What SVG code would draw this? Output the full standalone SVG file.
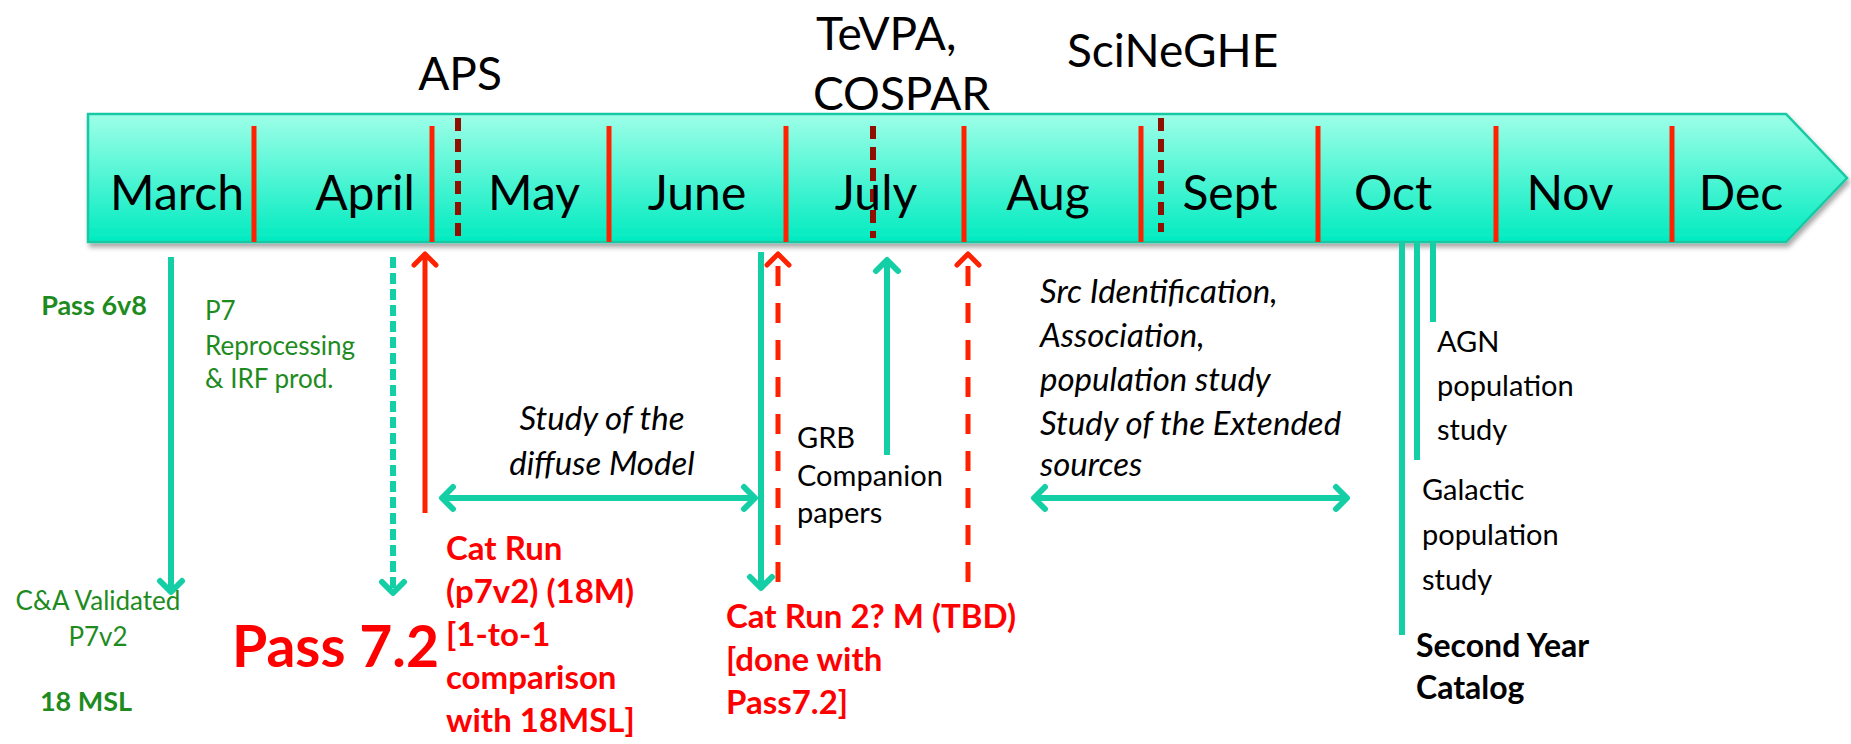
<svg xmlns="http://www.w3.org/2000/svg" width="1851" height="744" viewBox="0 0 1851 744">
<style>
text{font-family:Lato,"Liberation Sans",sans-serif;}
.mon{font-size:48px;fill:#000;text-anchor:middle;}
.ev{font-size:46px;fill:#000;}
.grn{font-size:26px;fill:#1E8B1E;}
.grnb{font-size:27px;fill:#1E8B1E;font-weight:bold;}
.it{font-size:33px;font-style:italic;fill:#000;}
.blk{font-size:29px;fill:#000;}
.red{font-size:33px;font-weight:bold;fill:#FF0000;}
.sep{stroke:#FF2200;stroke-width:5;}
.dsep{stroke:#8F1000;stroke-width:6;stroke-dasharray:13 8;}
.tl{stroke:#14CFA5;stroke-width:6;fill:none;}
.rl{stroke:#FF2200;stroke-width:5;fill:none;}
</style>
<defs>
<linearGradient id="bg" x1="0" y1="0" x2="0" y2="1">
<stop offset="0" stop-color="#9EFFE8"/>
<stop offset="1" stop-color="#00EBC0"/>
</linearGradient>
<filter id="sh" x="-5%" y="-20%" width="110%" height="150%">
<feDropShadow dx="2" dy="4" stdDeviation="2.5" flood-color="#000" flood-opacity="0.35"/>
</filter>
<marker id="ta" markerUnits="userSpaceOnUse" viewBox="-16 -16 20 32" refX="0" refY="0" markerWidth="20" markerHeight="32" orient="auto-start-reverse">
<path d="M-11,-11 L0,0 L-11,11" fill="none" stroke="#14CFA5" stroke-width="6" stroke-linecap="round" stroke-linejoin="round" stroke-dasharray="none"/>
</marker>
<marker id="ra" markerUnits="userSpaceOnUse" viewBox="-16 -16 20 32" refX="0" refY="0" markerWidth="20" markerHeight="32" orient="auto-start-reverse">
<path d="M-11,-11 L0,0 L-11,11" fill="none" stroke="#FF2200" stroke-width="5" stroke-linecap="round" stroke-linejoin="round" stroke-dasharray="none"/>
</marker>
</defs>

<g id="timeline">
<polygon points="88,114 1786,114 1847,178 1786,242 88,242" fill="url(#bg)" stroke="#19C9A4" stroke-width="2.5" filter="url(#sh)"/>
<line class="sep" x1="254" y1="126" x2="254" y2="242"/>
<line class="sep" x1="432" y1="126" x2="432" y2="242"/>
<line class="sep" x1="609" y1="126" x2="609" y2="242"/>
<line class="sep" x1="786" y1="126" x2="786" y2="242"/>
<line class="sep" x1="964" y1="126" x2="964" y2="242"/>
<line class="sep" x1="1141" y1="126" x2="1141" y2="242"/>
<line class="sep" x1="1318" y1="126" x2="1318" y2="242"/>
<line class="sep" x1="1496" y1="126" x2="1496" y2="242"/>
<line class="sep" x1="1672" y1="126" x2="1672" y2="242"/>
<line class="dsep" x1="458" y1="118" x2="458" y2="238"/>
<line class="dsep" x1="873" y1="126" x2="873" y2="238"/>
<line class="dsep" x1="1161" y1="118" x2="1161" y2="232"/>
<text class="mon" x="177" y="210">March</text>
<text class="mon" x="365" y="210">April</text>
<text class="mon" x="534" y="210">May</text>
<text class="mon" x="697" y="210">June</text>
<text class="mon" x="876" y="210">July</text>
<text class="mon" x="1048" y="210">Aug</text>
<text class="mon" x="1230" y="210">Sept</text>
<text class="mon" x="1393" y="210">Oct</text>
<text class="mon" x="1570" y="210">Nov</text>
<text class="mon" x="1741" y="210">Dec</text>
</g>

<g id="events">
<text class="ev" x="460" y="90" text-anchor="middle">APS</text>
<text class="ev" x="816" y="50">TeVPA,</text>
<text class="ev" x="813" y="110">COSPAR</text>
<text class="ev" x="1067" y="67">SciNeGHE</text>
</g>

<g id="connectors">
<line class="tl" x1="171" y1="257" x2="171" y2="592" marker-end="url(#ta)"/>
<line class="tl" x1="393" y1="257" x2="393" y2="593" stroke-dasharray="11 5" stroke-width="5" marker-end="url(#ta)"/>
<line class="rl" x1="425" y1="513" x2="425" y2="254" marker-end="url(#ra)"/>
<line class="tl" x1="442" y1="498" x2="755" y2="498" marker-start="url(#ta)" marker-end="url(#ta)"/>
<line class="tl" x1="761" y1="252" x2="761" y2="588" marker-end="url(#ta)"/>
<line class="rl" x1="778" y1="582" x2="778" y2="254" stroke-dasharray="20 17" marker-end="url(#ra)"/>
<line class="tl" x1="887" y1="455" x2="887" y2="260" marker-end="url(#ta)"/>
<line class="rl" x1="968" y1="582" x2="968" y2="254" stroke-dasharray="20 17" marker-end="url(#ra)"/>
<line class="tl" x1="1034" y1="498" x2="1347" y2="498" marker-start="url(#ta)" marker-end="url(#ta)"/>
<line class="tl" x1="1402" y1="242" x2="1402" y2="635"/>
<line class="tl" x1="1417" y1="242" x2="1417" y2="460"/>
<line class="tl" x1="1433" y1="242" x2="1433" y2="322"/>
</g>

<g id="pass6v8">
<text class="grnb" x="147" y="315" text-anchor="end">Pass 6v8</text>
</g>
<g id="p7-reprocessing">
<text class="grn" x="205" y="320">P7</text>
<text class="grn" x="205" y="355">Reprocessing</text>
<text class="grn" x="205" y="388">&amp; IRF prod.</text>
</g>
<g id="ca-validated">
<text class="grn" x="98" y="610" text-anchor="middle">C&amp;A Validated</text>
<text class="grn" x="98" y="646" text-anchor="middle">P7v2</text>
<text class="grnb" x="86" y="711" text-anchor="middle" font-size="29">18 MSL</text>
</g>
<g id="pass72">
<text x="232" y="667" font-size="57" font-weight="bold" fill="#FF0000">Pass 7.2</text>
</g>
<g id="catrun1">
<text class="red" x="446" y="560">Cat Run</text>
<text class="red" x="446" y="603">(p7v2) (18M)</text>
<text class="red" x="446" y="646">[1-to-1</text>
<text class="red" x="446" y="689">comparison</text>
<text class="red" x="446" y="732">with 18MSL]</text>
</g>
<g id="diffuse">
<text class="it" x="602" y="430" text-anchor="middle">Study of the</text>
<text class="it" x="602" y="475" text-anchor="middle">diffuse Model</text>
</g>
<g id="grb">
<text class="blk" x="797" y="448">GRB</text>
<text class="blk" x="797" y="486">Companion</text>
<text class="blk" x="797" y="523">papers</text>
</g>
<g id="catrun2">
<text class="red" x="726" y="628">Cat Run 2? M (TBD)</text>
<text class="red" x="726" y="671">[done with</text>
<text class="red" x="726" y="714">Pass7.2]</text>
</g>
<g id="src-id">
<text class="it" x="1040" y="303">Src Identification,</text>
<text class="it" x="1040" y="347">Association,</text>
<text class="it" x="1040" y="391">population study</text>
<text class="it" x="1040" y="435">Study of the Extended</text>
<text class="it" x="1040" y="476">sources</text>
</g>
<g id="agn">
<text class="blk" x="1437" y="352">AGN</text>
<text class="blk" x="1437" y="396">population</text>
<text class="blk" x="1437" y="440">study</text>
</g>
<g id="galactic">
<text class="blk" x="1422" y="500">Galactic</text>
<text class="blk" x="1422" y="545">population</text>
<text class="blk" x="1422" y="590">study</text>
</g>
<g id="catalog">
<text x="1416" y="657" font-size="32" font-weight="bold" fill="#000">Second Year</text>
<text x="1416" y="699" font-size="32" font-weight="bold" fill="#000">Catalog</text>
</g>
</svg>
